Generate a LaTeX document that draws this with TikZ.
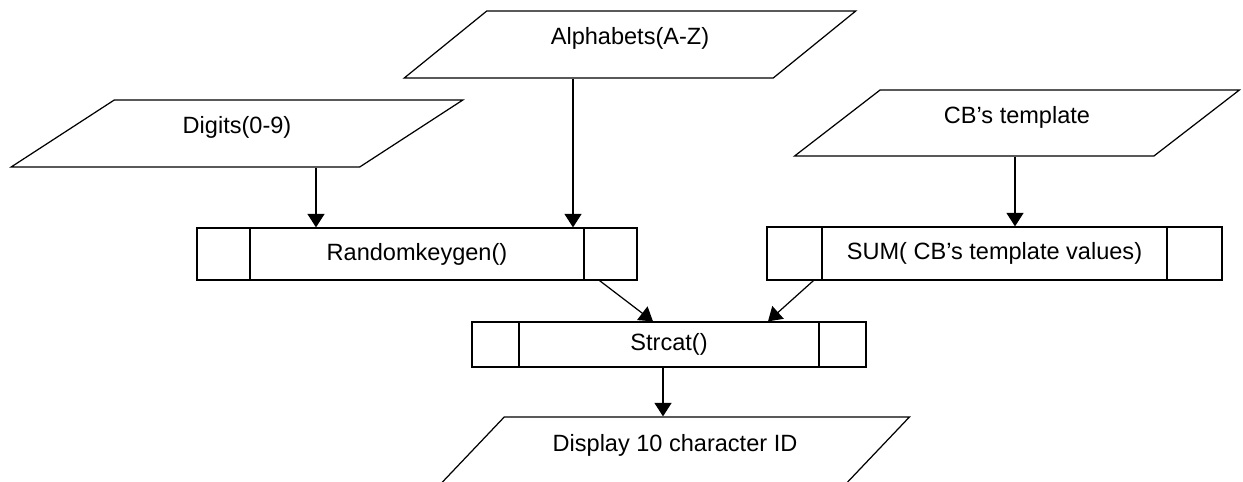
\documentclass[tikz,border=0pt]{standalone}
\usepackage{fontspec}
\setmainfont{Liberation Sans}
\usepackage{tikz}
\usetikzlibrary{shapes.geometric,arrows.meta,calc}
\tikzset{
	inout/.style={trapezium, trapezium left angle=36.7, trapezium right angle=143.3,
		trapezium stretches=true, draw, minimum width=9.04cm, minimum height=1.34cm,
		text height=0.35cm, text depth=0.33cm, inner sep=0pt},
	subproc/.style={rectangle, draw, minimum height=1.04cm, inner sep=0pt,
		path picture={
			\draw ([xshift=#1]path picture bounding box.north west) -- ([xshift=#1]path picture bounding box.south west);
			\draw ([xshift=-#1]path picture bounding box.north east) -- ([xshift=-#1]path picture bounding box.south east);
		}},
	arr/.style={-{Triangle[length=0.27cm,width=0.34cm]}}
}
\begin{document}
\begin{tikzpicture}[x=0.02cm,y=-0.02cm,line width=0.7pt,font=\fontsize{13.4}{16}\selectfont]
			\useasboundingbox (0,0) rectangle (1243,482);
			% inputs
			\node[inout] (alpha) at (630,44.5) {Alphabets(A-Z)};
			\node[inout] (digits) at (237,133.5) {Digits(0-9)};
			\node[inout, minimum width=8.9cm, minimum height=1.32cm] (cbs) at (1017,123) {CB’s template};
			% sub-processes
			\node[subproc=1.06cm, minimum width=8.8cm] (rkg) at (417,254) {Randomkeygen()};
			\node[subproc=1.1cm, minimum width=9.1cm, minimum height=1.06cm] (sum) at (994.5,253.5) {SUM( CB’s template values)};
			\node[subproc=0.94cm, minimum width=7.88cm, minimum height=0.9cm] (strcat) at (669,344.5) {Strcat()};
			% output
			\node[inout, minimum width=9.4cm] (disp) at (675,450.5) {Display 10 character ID};
			
			\foreach \src/\dst/\dx in {digits/rkg/79, alpha/rkg/-57, cbs/sum/-2} {
				\coordinate (from) at ($(\src.center |- \src.south)+(\dx,0)$);
				\draw[arr] (from) -- (from |- \dst.north);
			}
			\draw[arr] ($(rkg.south east)+(-38,0)$) -- ($(strcat.north)+(-16,0)$);
			\draw[arr] ($(sum.south west)+(47,0)$) -- ($(strcat.north)+(99,0)$);
			\coordinate (out) at ($(strcat.south)+(-6,0)$);
			\draw[arr] (out) -- (out |- disp.north);
\end{tikzpicture}
\end{document}
